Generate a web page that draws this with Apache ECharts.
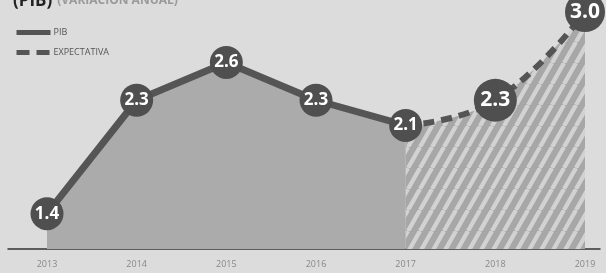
<!DOCTYPE html>
<html><head><meta charset="utf-8">
<script src="https://cdn.jsdelivr.net/npm/echarts@6/dist/echarts.min.js"></script>
<style>html,body{margin:0;padding:0;background:#dcdcdc}#c{width:606px;height:273px}</style>
</head><body><div id="c"></div><script>
const years = ['2013','2014','2015','2016','2017','2018','2019'];
const pib = [1.4, 2.3, 2.6, 2.3, 2.1, null, null];
const expectativa = [null, null, null, null, 2.1, 2.3, 3.0];
const seriesNames = ['PIB', 'EXPECTATIVA'];

const tile = document.createElement('canvas');
tile.width = 12; tile.height = 21;
const ctx = tile.getContext('2d');
ctx.fillStyle = '#a7a7a7'; ctx.fillRect(0, 0, 12, 21);
ctx.strokeStyle = '#d2d2d2'; ctx.lineWidth = 4.3;
ctx.beginPath();
for (const k of [-12, 0, 12]) { ctx.moveTo(k, 21); ctx.lineTo(k + 12, 0); }
ctx.stroke();

const chart = echarts.init(document.getElementById('c'));
const labelFont = 'Open Sans';
const fmt = p => p.value == null ? '' : Number(p.value).toFixed(1);
chart.setOption({
  backgroundColor: '#dcdcdc',
  animation: false,
  title: {
    text: '{b|(PIB)} {l|(VARIACIÓN ANUAL)}',
    left: 8, top: -13,
    textStyle: { rich: {
      b: { fontSize: 17, fontWeight: 'bold', color: '#222', fontFamily: labelFont },
      l: { fontSize: 12, color: '#9a9a9a', fontFamily: labelFont }
    } }
  },
  legend: {
    orient: 'vertical', left: 9, top: 23, itemWidth: 34, itemHeight: 10, itemGap: 11,
    itemStyle: { opacity: 0 },
    lineStyle: { width: 5 },
    textStyle: { fontSize: 9, color: '#555', fontFamily: 'Open Sans', padding: [0, 0, 0, -2] },
    data: [
      { name: seriesNames[0] },
      { name: seriesNames[1], lineStyle: { width: 5, type: [13, 7] } }
    ]
  },
  grid: [
    { left: 47, right: 21, top: 12, bottom: 24 },
    { left: 8, right: 6, bottom: 24, height: 1 }
  ],
  xAxis: [
    { type: 'category', data: years, boundaryGap: false, gridIndex: 0,
      axisLine: { show: false }, axisTick: { show: false },
      axisLabel: { color: '#888', fontSize: 9, margin: 11, fontFamily: 'Open Sans' } },
    { type: 'value', gridIndex: 1, min: 0, max: 1,
      axisLine: { show: true, lineStyle: { color: '#333', width: 1.5 } },
      axisTick: { show: false }, axisLabel: { show: false }, splitLine: { show: false } }
  ],
  yAxis: [
    { type: 'value', min: 1.12, max: 3.0, show: false, gridIndex: 0 },
    { type: 'value', show: false, gridIndex: 1 }
  ],
  series: [
    {
      name: seriesNames[1], type: 'line', z: 2, smooth: 0.45,
      data: expectativa.map((v, i) => ({
        value: v,
        symbolSize: i === 4 ? 0 : (i === 5 ? 43 : 40),
        label: { show: i > 4 }
      })),
      symbol: 'circle',
      itemStyle: { color: '#4f4f4f' },
      lineStyle: { color: '#555', width: 6, type: [11, 7] },
      areaStyle: { color: { image: tile, repeat: 'repeat' }, opacity: 1 },
      label: { position: 'inside', color: '#fff', fontSize: 21, fontWeight: 'bold', fontFamily: labelFont, formatter: fmt }
    },
    {
      name: seriesNames[0], type: 'line', z: 3,
      data: pib,
      symbol: 'circle', symbolSize: 33,
      itemStyle: { color: '#4f4f4f' },
      lineStyle: { color: '#555', width: 7 },
      areaStyle: { color: '#ababab', opacity: 1 },
      label: { show: true, position: 'inside', color: '#fff', fontSize: 17, fontWeight: 'bold', fontFamily: labelFont, formatter: fmt }
    }
  ]
});
</script></body></html>
